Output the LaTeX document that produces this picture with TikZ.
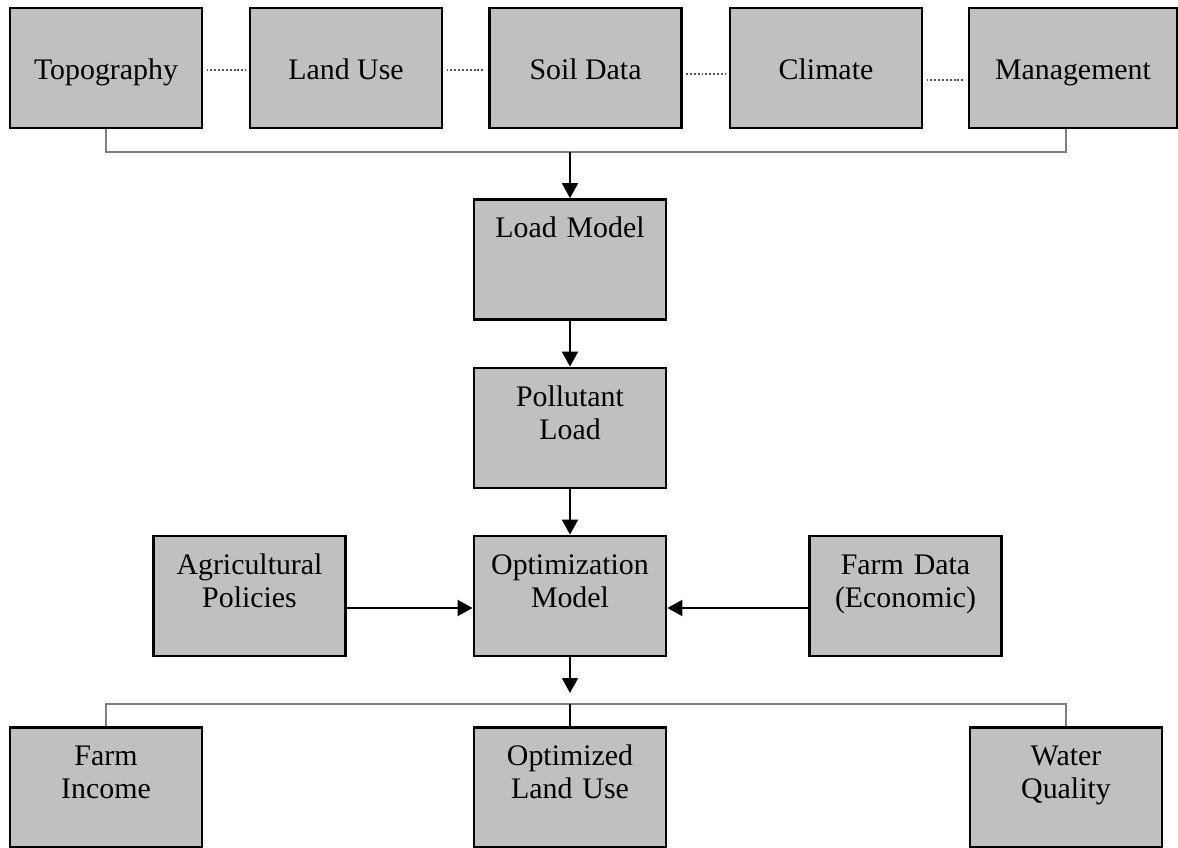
\documentclass[tikz,border=0pt]{standalone}
\usepackage{fontspec}
\setmainfont{Liberation Serif}
\usetikzlibrary{arrows.meta}
\definecolor{boxgray}{RGB}{192,192,192}
\definecolor{dotgray}{RGB}{85,85,85}

\begin{document}
\begin{tikzpicture}[x=0.02cm,y=-0.02cm,
    box/.style={draw,line width=1.6pt,fill=boxgray,inner sep=0pt,
        font=\fontsize{17}{19}\selectfont},
    inbox/.style={box,minimum width=3.84cm,
        text height=1.44cm,text depth=0.96cm},
    modelbox/.style={box,text width=3.84cm,align=center,
        text height=0.76cm,text depth=1.64cm},
    link/.style={draw=dotgray,line width=1.1pt,dash pattern=on 1.1pt off 1.1pt,
        shorten <=1.8pt,shorten >=1.8pt},
    bus/.style={draw=gray,line width=0.75pt},
    flow/.style={line width=1.1pt,-{Triangle[length=0.3cm,width=0.32cm]}}]
    \useasboundingbox (0,0) rectangle (1178,848);
    % input data
    \node[inbox] (topo) at (106,68) {Topography};
    \node[inbox] (landuse) at (346,68) {Land Use};
    \node[inbox] (soil) at (585.5,68) {Soil Data};
    \node[inbox] (climate) at (826,68) {Climate};
    \node[inbox,minimum width=4.16cm] (mgmt) at (1073,68) {Management};
    \draw[link] ([yshift=-0.04cm]topo.east) -- ([yshift=-0.04cm]landuse.west);
    \draw[link] ([yshift=-0.04cm]landuse.east) -- ([yshift=-0.04cm]soil.west);
    \draw[link] ([yshift=-0.12cm]soil.east) -- ([yshift=-0.12cm]climate.west);
    \draw[link] ([yshift=-0.24cm]climate.east) -- ([yshift=-0.24cm]mgmt.west);
    \coordinate (topbusL) at (106,152);
    \coordinate (topbusR) at (1066,152);
    \draw[bus] (topo.south) -- (topbusL) -- (topbusR) -- (topbusR |- mgmt.south);
    % models
    \node[modelbox] (load) at (570,259.5) {Load Model};
    \node[modelbox] (poll) at (570,428) {Pollutant\\Load};
    \node[modelbox] (opt) at (570,596) {Optimization\\Model};
    \node[modelbox] (agri) at (249.5,596) {Agricultural\\Policies};
    \node[modelbox] (farmdata) at (905.5,596) {Farm Data\\(Economic)};
    \draw[flow] (load.north |- topbusL) -- (load.north);
    \draw[flow] (load) -- (poll);
    \draw[flow] (poll) -- (opt);
    \draw[flow] ([yshift=-0.24cm]agri.east) -- ([yshift=-0.24cm]opt.west);
    \draw[flow] ([yshift=-0.24cm]farmdata.west) -- ([yshift=-0.24cm]opt.east);
    % results
    \node[modelbox] (income) at (106,787.5) {Farm\\Income};
    \node[modelbox] (optland) at (570,787.5) {Optimized\\Land Use};
    \node[modelbox] (water) at (1066,787.5) {Water\\Quality};
    \coordinate (opttip) at (570,693);
    \draw[flow] (opt.south) -- (opttip);
    \coordinate (lowbusL) at (106,704);
    \coordinate (lowbusR) at (1066,704);
    \draw[bus] (income.north) -- (lowbusL) -- (lowbusR) -- (water.north);
    \draw[line width=1.1pt] (optland.north |- lowbusL) -- (optland.north);
\end{tikzpicture}
\end{document}
